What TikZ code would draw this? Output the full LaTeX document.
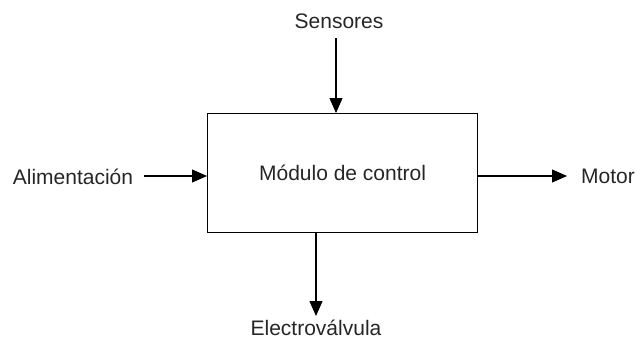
\documentclass[tikz,border=0pt]{standalone}
\usepackage{fontspec}
\setmainfont{Liberation Sans}
\usetikzlibrary{arrows.meta}
\begin{document}
\begin{tikzpicture}[x=1pt,y=-1pt,
  lbl/.style={font=\fontsize{21}{25}\selectfont, inner sep=0pt, text=black!85},
  conn/.style={line width=1.1pt, -{Triangle[length=15pt,width=13pt]}}]
\useasboundingbox (0,0) rectangle (637,341);
\node[draw, line width=1.1pt, minimum width=270pt, minimum height=119pt, inner sep=0pt, anchor=north west] (box) at (207,113) {};
\node[lbl] at (box.center) {Módulo de control};
\node[lbl] (sens) at (339,21) {Sensores};
\node[lbl] (alim) at (73,177) {Alimentación};
\node[lbl] (mot) at (608,176) {Motor};
\node[lbl, anchor=base] (elec) at (316,335) {Electroválvula};
\coordinate (sTop) at (336,38);
\coordinate (aL) at (144,176);
\coordinate (mR) at (567,176);
\coordinate (eB) at (316,316);
\draw[conn] (sTop) -- (sTop |- box.north);
\draw[conn] (aL) -- (aL -| box.west);
\draw[conn] (mR -| box.east) -- (mR);
\draw[conn] (eB |- box.south) -- (eB);
\end{tikzpicture}
\end{document}
